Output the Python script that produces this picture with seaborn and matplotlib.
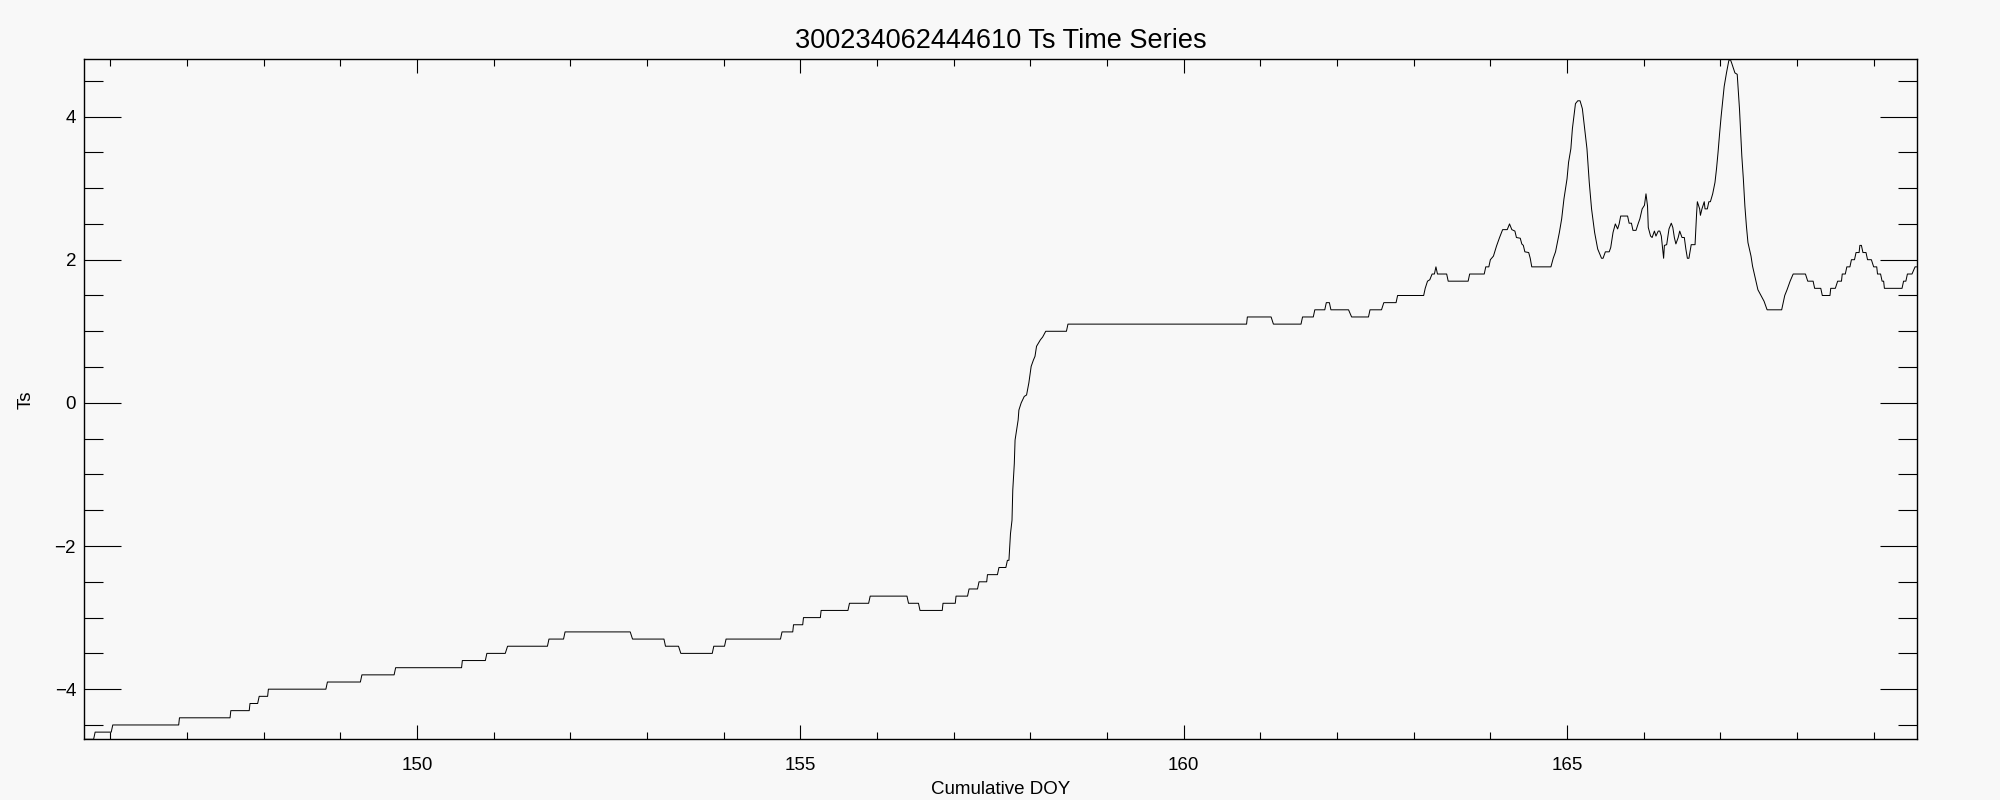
import matplotlib
matplotlib.use("Agg")
import matplotlib.pyplot as plt
from matplotlib.ticker import MultipleLocator
import seaborn as sns
import pandas as pd

# values, buoy 300234062444610
doy = [
    145.66, 145.78, 145.80, 146.01, 146.03, 146.89, 146.90, 147.56, 147.57, 147.81,
    147.82, 147.92, 147.94, 148.05, 148.06, 148.81, 148.83, 149.26, 149.28, 149.70,
    149.72, 150.58, 150.59, 150.89, 150.91, 151.15, 151.18, 151.70, 151.72, 151.91,
    151.93, 152.78, 152.81, 153.22, 153.24, 153.41, 153.44, 153.85, 153.87, 154.01,
    154.03, 154.74, 154.76, 154.90, 154.91, 155.03, 155.04, 155.26, 155.27, 155.62,
    155.64, 155.89, 155.91, 156.39, 156.41, 156.54, 156.56, 156.85, 156.86, 157.02,
    157.03, 157.18, 157.20, 157.31, 157.33, 157.43, 157.44, 157.57, 157.59, 157.68,
    157.70, 157.72, 157.74, 157.76, 157.77, 157.79, 157.80, 157.82, 157.84, 157.85,
    157.88, 157.92, 157.95, 157.98, 158.01, 158.04, 158.06, 158.08, 158.13, 158.16,
    158.20, 158.47, 158.49, 160.82, 160.83, 161.14, 161.17, 161.53, 161.55, 161.69,
    161.71, 161.84, 161.86, 161.90, 161.92, 162.15, 162.19, 162.41, 162.43, 162.58,
    162.61, 162.77, 162.79, 163.13, 163.15, 163.18, 163.21, 163.24, 163.27, 163.29,
    163.31, 163.43, 163.45, 163.71, 163.73, 163.92, 163.94, 163.98, 164.00, 164.04,
    164.08, 164.12, 164.16, 164.22, 164.25, 164.28, 164.32, 164.34, 164.39, 164.41,
    164.43, 164.45, 164.50, 164.52, 164.54, 164.79, 164.82, 164.85, 164.87, 164.90,
    164.93, 164.96, 165.00, 165.02, 165.05, 165.07, 165.11, 165.14, 165.17, 165.20,
    165.23, 165.26, 165.29, 165.32, 165.36, 165.40, 165.45, 165.47, 165.50, 165.55,
    165.57, 165.60, 165.63, 165.66, 165.68, 165.70, 165.79, 165.81, 165.84, 165.86,
    165.90, 165.93, 165.95, 165.98, 166.01, 166.03, 166.05, 166.06, 166.09, 166.11,
    166.14, 166.16, 166.19, 166.21, 166.23, 166.26, 166.27, 166.30, 166.33, 166.36,
    166.38, 166.40, 166.42, 166.45, 166.47, 166.50, 166.53, 166.55, 166.57, 166.59,
    166.62, 166.67, 166.69, 166.70, 166.73, 166.74, 166.76, 166.79, 166.80, 166.83,
    166.85, 166.87, 166.90, 166.93, 166.95, 166.97, 166.99, 167.01, 167.05, 167.08,
    167.11, 167.13, 167.15, 167.19, 167.22, 167.25, 167.28, 167.30, 167.32, 167.34,
    167.36, 167.40, 167.42, 167.45, 167.49, 167.53, 167.57, 167.61, 167.80, 167.84,
    167.87, 167.91, 167.95, 168.11, 168.14, 168.21, 168.23, 168.31, 168.33, 168.43,
    168.44, 168.50, 168.53, 168.58, 168.59, 168.63, 168.65, 168.69, 168.71, 168.75,
    168.77, 168.81, 168.82, 168.84, 168.86, 168.90, 168.92, 168.97, 169.00, 169.04,
    169.05, 169.09, 169.11, 169.13, 169.14, 169.37, 169.39, 169.42, 169.44, 169.50,
    169.54, 169.56,
]
ts = [
    -4.7, -4.7, -4.6, -4.6, -4.5, -4.5, -4.4, -4.4, -4.3, -4.3,
    -4.2, -4.2, -4.1, -4.1, -4.0, -4.0, -3.9, -3.9, -3.8, -3.8,
    -3.7, -3.7, -3.6, -3.6, -3.5, -3.5, -3.4, -3.4, -3.3, -3.3,
    -3.2, -3.2, -3.3, -3.3, -3.4, -3.4, -3.5, -3.5, -3.4, -3.4,
    -3.3, -3.3, -3.2, -3.2, -3.1, -3.1, -3.0, -3.0, -2.9, -2.9,
    -2.8, -2.8, -2.7, -2.7, -2.8, -2.8, -2.9, -2.9, -2.8, -2.8,
    -2.7, -2.7, -2.6, -2.6, -2.5, -2.5, -2.4, -2.4, -2.3, -2.3,
    -2.2, -2.2, -1.83, -1.64, -1.22, -0.85, -0.52, -0.38, -0.24, -0.10,
    0.0, 0.09, 0.11, 0.28, 0.51, 0.60, 0.65, 0.79, 0.88, 0.92,
    1.0, 1.0, 1.1, 1.1, 1.2, 1.2, 1.1, 1.1, 1.2, 1.2,
    1.3, 1.3, 1.4, 1.4, 1.3, 1.3, 1.2, 1.2, 1.3, 1.3,
    1.4, 1.4, 1.5, 1.5, 1.6, 1.7, 1.72, 1.8, 1.8, 1.9,
    1.8, 1.8, 1.7, 1.7, 1.8, 1.8, 1.9, 1.9, 2.0, 2.05,
    2.19, 2.31, 2.42, 2.42, 2.5, 2.42, 2.4, 2.31, 2.3, 2.22,
    2.2, 2.11, 2.1, 2.02, 1.9, 1.9, 2.02, 2.11, 2.22, 2.38,
    2.57, 2.85, 3.13, 3.36, 3.55, 3.83, 4.18, 4.22, 4.22, 4.11,
    3.83, 3.55, 3.08, 2.71, 2.38, 2.15, 2.02, 2.02, 2.11, 2.11,
    2.17, 2.38, 2.50, 2.43, 2.50, 2.61, 2.61, 2.51, 2.51, 2.41,
    2.41, 2.51, 2.57, 2.71, 2.76, 2.92, 2.75, 2.45, 2.33, 2.31,
    2.40, 2.33, 2.40, 2.40, 2.33, 2.02, 2.20, 2.21, 2.43, 2.51,
    2.45, 2.31, 2.22, 2.31, 2.40, 2.31, 2.31, 2.15, 2.02, 2.02,
    2.21, 2.21, 2.64, 2.81, 2.71, 2.62, 2.71, 2.81, 2.71, 2.71,
    2.81, 2.81, 2.92, 3.08, 3.27, 3.50, 3.76, 4.0, 4.42, 4.61,
    4.78, 4.8, 4.74, 4.61, 4.59, 4.10, 3.45, 3.13, 2.75, 2.47,
    2.24, 2.05, 1.91, 1.77, 1.58, 1.50, 1.42, 1.30, 1.30, 1.5,
    1.58, 1.70, 1.8, 1.8, 1.7, 1.7, 1.6, 1.6, 1.5, 1.5,
    1.6, 1.6, 1.7, 1.7, 1.8, 1.8, 1.9, 1.9, 2.0, 2.0,
    2.1, 2.1, 2.2, 2.2, 2.1, 2.1, 2.0, 2.0, 1.9, 1.9,
    1.8, 1.8, 1.7, 1.7, 1.6, 1.6, 1.7, 1.7, 1.8, 1.8,
    1.9, 1.9,
]

nazev = "300234062444610 Ts Time Series"
popis_x = "Cumulative DOY"
popis_y = "Ts"
x_ticks = [150, 155, 160, 165]
y_ticks = [-4, -2, 0, 2, 4]

pozadi = "#f8f8f8"

sns.set_style("ticks")
plt.rcParams["font.family"] = ["Liberation Sans", "DejaVu Sans"]

fig = plt.figure(figsize=(20, 8), dpi=100, facecolor=pozadi)
ax = fig.add_axes([0.0422, 0.0759, 0.9161, 0.85])
ax.set_facecolor(pozadi)

df = pd.DataFrame({"doy": doy, "ts": ts})
sns.lineplot(data=df, x="doy", y="ts", ax=ax, color="black", linewidth=0.72,
             estimator=None, sort=False)

ax.set_xlim(145.66, 169.56)
ax.set_ylim(-4.7, 4.8)
ax.set_xticks(x_ticks)
ax.set_yticks(y_ticks)
ax.xaxis.set_minor_locator(MultipleLocator(1))
ax.yaxis.set_minor_locator(MultipleLocator(0.5))

# IDL-like ticks: inward on all four sides
ax.tick_params(axis="both", which="both", direction="in", top=True, right=True,
               width=0.8, color="black", labelsize=13.5, labelcolor="black")
ax.tick_params(axis="x", which="major", length=10, pad=13)
ax.tick_params(axis="x", which="minor", length=5)
ax.tick_params(axis="y", which="major", length=26.5, pad=6)
ax.tick_params(axis="y", which="minor", length=13.5)

for s in ax.spines.values():
    s.set_color("black")
    s.set_linewidth(1.0)

ax.set_title(nazev, fontsize=19.5, pad=8, color="black")
ax.set_xlabel(popis_x, fontsize=13.5, labelpad=5, color="black")
ax.set_ylabel(popis_y, fontsize=13.5, labelpad=14, color="black")

fig.savefig("out.png", dpi=100, facecolor=fig.get_facecolor())
plt.close(fig)
